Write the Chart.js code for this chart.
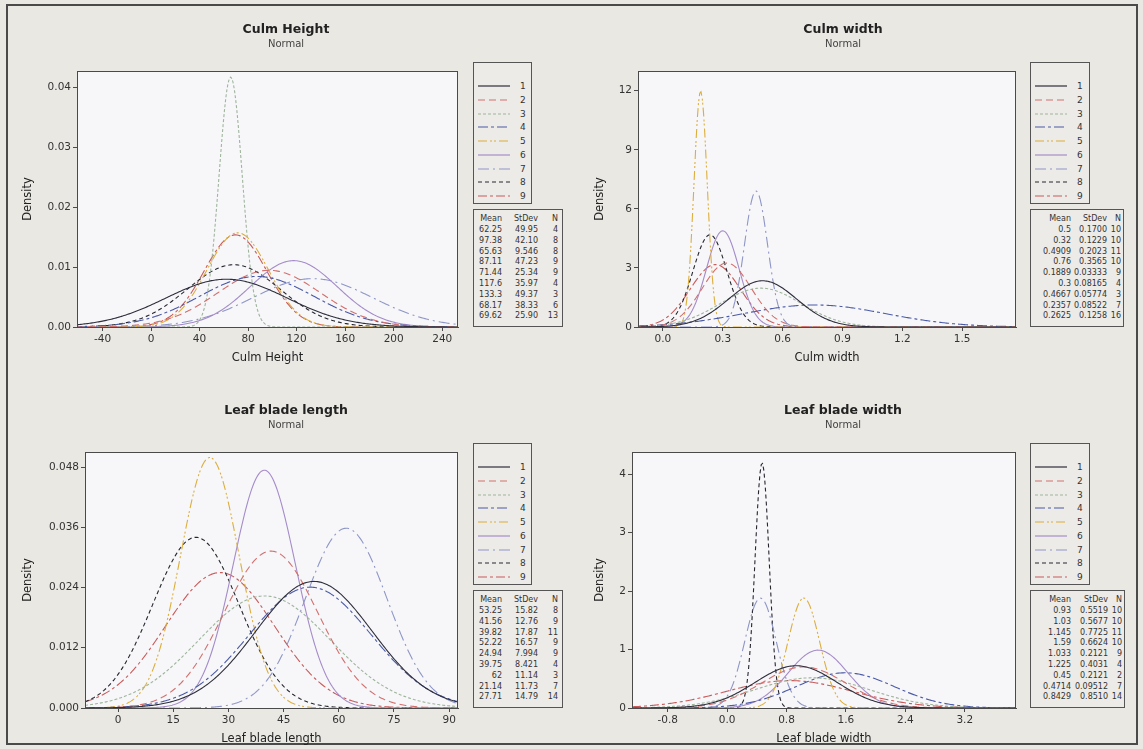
<!DOCTYPE html>
<html>
<head>
<meta charset="utf-8">
<title>Normal fits by group</title>
<script src="https://cdn.jsdelivr.net/npm/chart.js@4.4.1/dist/chart.umd.min.js"></script>
<style>
  html, body { margin: 0; padding: 0; }
  body { width: 1143px; height: 749px; position: relative; overflow: hidden;
         background: #eae8e3; font-family: "DejaVu Sans", Verdana, sans-serif; color: #333; }
  #frame { position: absolute; left: 6px; top: 4px; width: 1132px; height: 741px;
           border: 2px solid #4a4a4a; box-sizing: border-box; }
  canvas { position: absolute; }
  .ttl { position: absolute; transform: translateX(-50%); font-weight: bold; font-size: 12.5px;
         line-height: 14px; white-space: nowrap; color: #222; }
  .sub { position: absolute; transform: translateX(-50%); font-size: 10px; line-height: 12px;
         white-space: nowrap; color: #444; }
  .box { position: absolute; border: 1px solid #555; box-sizing: border-box; background: #edebe7; }
  .box span { position: absolute; font-size: 8px; line-height: 10px; white-space: nowrap; color: #333; }
  .box svg { position: absolute; }
</style>
</head>
<body>
<div id="frame"></div>
<script>
// ─── Data (read from the Mean / StDev / N tables) ─────────────────────
const groups = ['1', '2', '3', '4', '5', '6', '7', '8', '9'];

const chMean = [62.25, 97.38, 65.63, 87.11, 71.44, 117.6, 133.3, 68.17, 69.62];
const chSd   = [49.95, 42.10, 9.546, 47.23, 25.34, 35.97, 49.37, 38.33, 25.90];
const chN    = [4, 8, 8, 9, 9, 4, 3, 6, 13];
const chXTicks = [-40, 0, 40, 80, 120, 160, 200, 240];
const chYTicks = [0, 0.01, 0.02, 0.03, 0.04];

const cwMean = [0.5, 0.32, 0.4909, 0.76, 0.1889, 0.3, 0.4667, 0.2357, 0.2625];
const cwSd   = [0.1700, 0.1229, 0.2023, 0.3565, 0.03333, 0.08165, 0.05774, 0.08522, 0.1258];
const cwN    = [10, 10, 11, 10, 9, 4, 3, 7, 16];
const cwXTicks = [0, 0.3, 0.6, 0.9, 1.2, 1.5];
const cwYTicks = [0, 3, 6, 9, 12];

const llMean = [53.25, 41.56, 39.82, 52.22, 24.94, 39.75, 62, 21.14, 27.71];
const llSd   = [15.82, 12.76, 17.87, 16.57, 7.994, 8.421, 11.14, 11.73, 14.79];
const llN    = [8, 9, 11, 9, 9, 4, 3, 7, 14];
const llXTicks = [0, 15, 30, 45, 60, 75, 90];
const llYTicks = [0, 0.012, 0.024, 0.036, 0.048];

const lwMean = [0.93, 1.03, 1.145, 1.59, 1.033, 1.225, 0.45, 0.4714, 0.8429];
const lwSd   = [0.5519, 0.5677, 0.7725, 0.6624, 0.2121, 0.4031, 0.2121, 0.09512, 0.8510];
const lwN    = [10, 10, 11, 10, 9, 4, 2, 7, 14];
const lwXTicks = [-0.8, 0, 0.8, 1.6, 2.4, 3.2];
const lwYTicks = [0, 1, 2, 3, 4];

// ─── Styles ──────────────────────────────────────────────────────────
const groupColors = ['#2e2e3c', '#d2706e', '#9fb59c', '#4b5aa6', '#dcae3c',
                     '#a48cc8', '#8e96c6', '#26262e', '#c85a5a'];
const groupDash = [[], [7, 4], [3, 2], [10, 3, 3, 3], [9, 3, 2, 2, 2, 3],
                   [], [11, 4, 2, 4], [4, 3], [9, 3, 3, 3]];
const tickFont = { family: 'DejaVu Sans', size: 10.5 };
const axisFont = { family: 'DejaVu Sans', size: 11.5 };
const X_AXIS_H = 40;
const SAMPLES = 300;

// Normal density used by the "Normal" fit, evaluated from each group's mean / stdev
function normalPdf(x, m, s) {
    return Math.exp(-0.5 * ((x - m) / s) ** 2) / (s * Math.sqrt(2 * Math.PI));
}

// plot background + closed frame round the plot area
const plotFrame = {
    id: 'plotFrame',
    beforeDraw(chart) {
        const { ctx, chartArea: a } = chart;
        ctx.save();
        ctx.fillStyle = '#f7f7fa';
        ctx.fillRect(a.left, a.top, a.width, a.height);
        ctx.restore();
    },
    afterDraw(chart) {
        const { ctx, chartArea: a } = chart;
        ctx.save();
        ctx.strokeStyle = '#4a4a4a';
        ctx.lineWidth = 1;
        ctx.strokeRect(a.left + 0.5, a.top + 0.5, a.width - 1, a.height);
        ctx.restore();
    }
};

// ─── Panels ──────────────────────────────────────────────────────────
const panels = [
    { title: 'Culm Height', xTitle: 'Culm Height', mean: chMean, sd: chSd, n: chN,
      xTicks: chXTicks, yTicks: chYTicks, xMin: -61, xMax: 253, yMax: 0.0428, xDec: 0, yDec: 2,
      cv: [0, 0, 571, 381], plot: [77, 71, 458, 327], tx: 286, ty: 29,
      legend: [473, 62, 59, 142], table: [473, 209, 90, 118], cols: [30, 66, 86] },
    { title: 'Culm width', xTitle: 'Culm width', mean: cwMean, sd: cwSd, n: cwN,
      xTicks: cwXTicks, yTicks: cwYTicks, xMin: -0.125, xMax: 1.77, yMax: 13.0, xDec: 1, yDec: 0,
      cv: [572, 0, 571, 381], plot: [638, 71, 1016, 327], tx: 843, ty: 29,
      legend: [1030, 62, 60, 142], table: [1030, 209, 94, 118], cols: [42, 78, 92] },
    { title: 'Leaf blade length', xTitle: 'Leaf blade length', mean: llMean, sd: llSd, n: llN,
      xTicks: llXTicks, yTicks: llYTicks, xMin: -9, xMax: 92.4, yMax: 0.051, xDec: 0, yDec: 3,
      cv: [0, 381, 571, 368], plot: [85, 452, 458, 708], tx: 286, ty: 410,
      legend: [473, 443, 59, 142], table: [473, 590, 90, 118], cols: [30, 66, 86] },
    { title: 'Leaf blade width', xTitle: 'Leaf blade width', mean: lwMean, sd: lwSd, n: lwN,
      xTicks: lwXTicks, yTicks: lwYTicks, xMin: -1.28, xMax: 3.89, yMax: 4.38, xDec: 1, yDec: 0,
      cv: [572, 381, 571, 368], plot: [632, 452, 1016, 708], tx: 843, ty: 410,
      legend: [1030, 443, 60, 142], table: [1030, 590, 95, 118], cols: [42, 79, 93] }
];

function addText(cls, text, x, y) {
    const el = document.createElement('div');
    el.className = cls;
    el.textContent = text;
    el.style.left = x + 'px';
    el.style.top = y + 'px';
    document.body.appendChild(el);
}

function buildChart(p) {
    const [cx, cy, cw, ch] = p.cv;
    const cv = document.createElement('canvas');
    cv.width = cw; cv.height = ch;
    cv.style.left = cx + 'px'; cv.style.top = cy + 'px';
    document.body.appendChild(cv);

    const L = p.plot[0] - cx, T = p.plot[1] - cy, R = p.plot[2] - cx, B = p.plot[3] - cy;
    const xs = [];
    for (let i = 0; i <= SAMPLES; i++) xs.push(p.xMin + (p.xMax - p.xMin) * i / SAMPLES);

    const datasets = p.mean.map((m, g) => ({
        label: groups[g],
        data: xs.map(x => ({ x: x, y: normalPdf(x, m, p.sd[g]) })),
        borderColor: groupColors[g],
        borderDash: groupDash[g],
        borderWidth: 1.1,
        pointRadius: 0,
        fill: false,
        tension: 0
    }));

    new Chart(cv, {
        type: 'line',
        data: { datasets: datasets },
        options: {
            responsive: false,
            animation: false,
            events: [],
            layout: { padding: { left: 0, top: T, right: cw - R, bottom: ch - B - X_AXIS_H } },
            plugins: { legend: { display: false }, tooltip: { enabled: false } },
            scales: {
                x: {
                    type: 'linear', min: p.xMin, max: p.xMax,
                    afterBuildTicks: ax => { ax.ticks = p.xTicks.map(v => ({ value: v })); },
                    afterFit: ax => { ax.height = X_AXIS_H; ax.paddingLeft = 0; ax.paddingRight = 0; },
                    ticks: { callback: v => Number(v).toFixed(p.xDec), font: tickFont, color: '#333',
                             padding: 2, maxRotation: 0, autoSkip: false },
                    grid: { drawOnChartArea: false, tickLength: 4, color: '#4a4a4a' },
                    border: { color: '#4a4a4a' },
                    title: { display: true, text: p.xTitle, font: axisFont, color: '#222',
                             padding: { top: 0, bottom: 2 } }
                },
                y: {
                    type: 'linear', min: 0, max: p.yMax,
                    afterBuildTicks: ax => { ax.ticks = p.yTicks.map(v => ({ value: v })); },
                    afterFit: ax => { ax.width = L; ax.paddingTop = 0; ax.paddingBottom = 0; },
                    ticks: { callback: v => Number(v).toFixed(p.yDec), font: tickFont, color: '#333',
                             padding: 2, autoSkip: false },
                    grid: { drawOnChartArea: false, tickLength: 4, color: '#4a4a4a' },
                    border: { color: '#4a4a4a' },
                    title: { display: true, text: 'Density', font: axisFont, color: '#222',
                             padding: { top: 21, bottom: 0 } }
                }
            }
        },
        plugins: [plotFrame]
    });
}

function buildLegend(p) {
    const [lx, ly, lw, lh] = p.legend;
    const box = document.createElement('div');
    box.className = 'box';
    Object.assign(box.style, { left: lx + 'px', top: ly + 'px', width: lw + 'px', height: lh + 'px' });
    groups.forEach((g, i) => {
        const yc = 23 + i * 13.75;
        const svg = document.createElementNS('http://www.w3.org/2000/svg', 'svg');
        svg.setAttribute('width', 32); svg.setAttribute('height', 4);
        svg.style.left = '4px'; svg.style.top = (yc - 2) + 'px';
        const ln = document.createElementNS('http://www.w3.org/2000/svg', 'line');
        ln.setAttribute('x1', 0); ln.setAttribute('y1', 2);
        ln.setAttribute('x2', 32); ln.setAttribute('y2', 2);
        ln.setAttribute('stroke', groupColors[i]);
        ln.setAttribute('stroke-width', 1.2);
        if (groupDash[i].length) ln.setAttribute('stroke-dasharray', groupDash[i].join(' '));
        svg.appendChild(ln);
        box.appendChild(svg);
        const t = document.createElement('span');
        t.textContent = g;
        t.style.left = '46px'; t.style.top = (yc - 5) + 'px';
        t.style.fontSize = '9px';
        box.appendChild(t);
    });
    document.body.appendChild(box);
}

function buildTable(p) {
    const [tx, ty, tw, th] = p.table;
    const box = document.createElement('div');
    box.className = 'box';
    Object.assign(box.style, { left: tx + 'px', top: ty + 'px', width: tw + 'px', height: th + 'px' });
    const cell = (text, col, yc) => {
        const s = document.createElement('span');
        s.textContent = text;
        s.style.right = (tw - p.cols[col]) + 'px';
        s.style.top = (yc - 5) + 'px';
        box.appendChild(s);
    };
    cell('Mean', 0, 9); cell('StDev', 1, 9); cell('N', 2, 9);
    p.mean.forEach((m, i) => {
        const yc = 20 + i * 10.8;
        cell(String(m), 0, yc);
        cell(p.sd[i].toPrecision(4), 1, yc);
        cell(String(p.n[i]), 2, yc);
    });
    document.body.appendChild(box);
}

panels.forEach(p => {
    buildChart(p);
    addText('ttl', p.title, p.tx, p.ty - 7);
    addText('sub', 'Normal', p.tx, p.ty + 9);
    buildLegend(p);
    buildTable(p);
});
</script>
</body>
</html>
